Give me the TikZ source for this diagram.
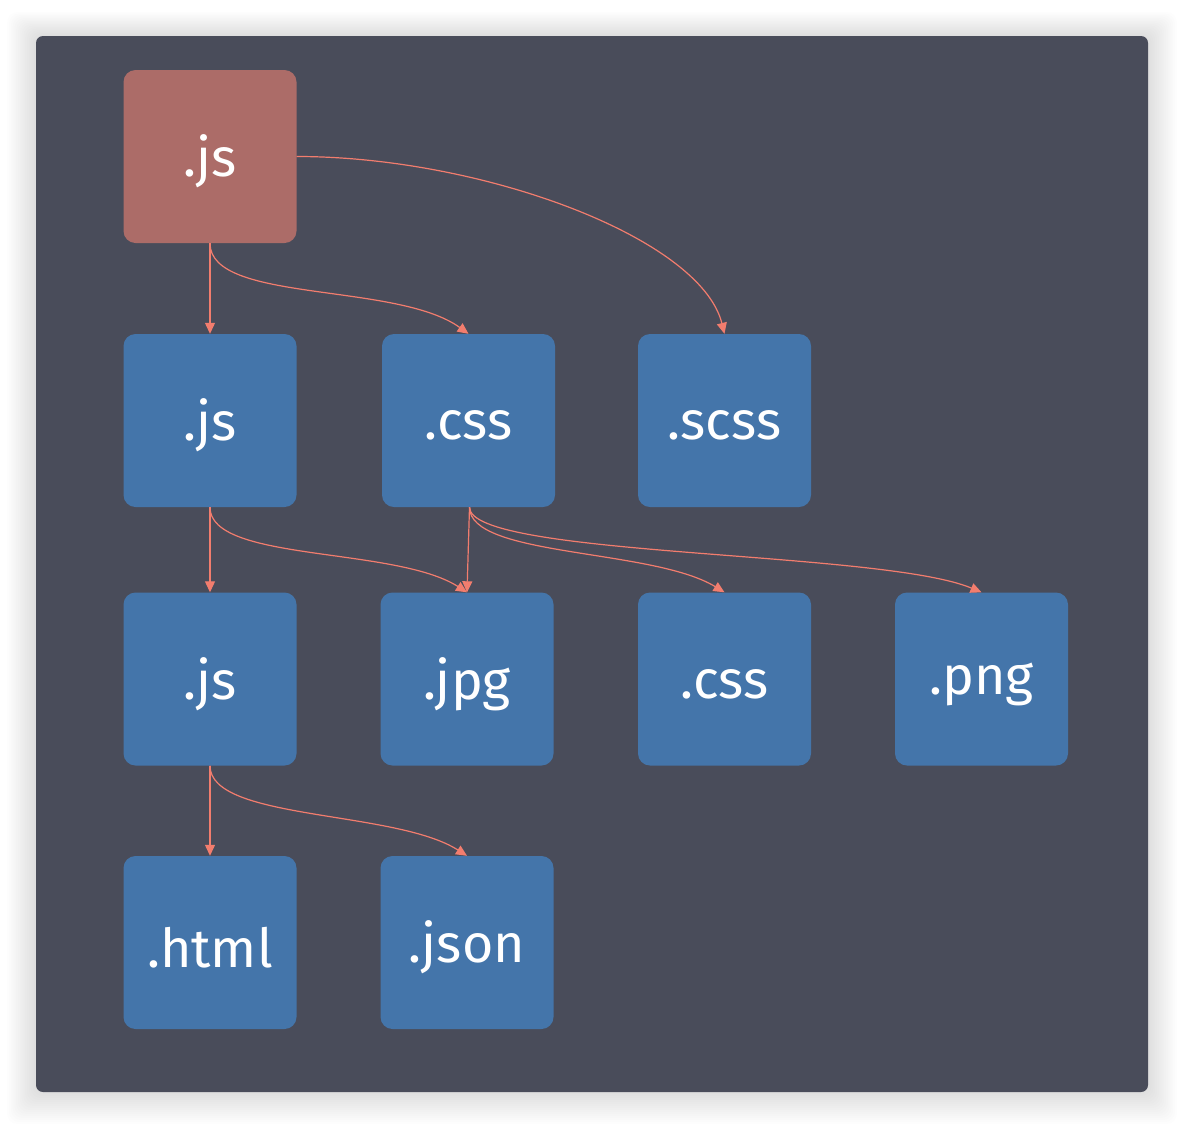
\documentclass[tikz,border=0pt]{standalone}
\usepackage{fontspec}
\setmainfont{Fira Sans}
\usetikzlibrary{arrows.meta}
\definecolor{panelbg}{HTML}{494C5A}
\definecolor{rootred}{HTML}{AC6C68}
\definecolor{fileblue}{HTML}{4475AA}
\definecolor{edgecol}{HTML}{F27D6E}
\newcommand{\lowtxt}[1]{\raisebox{-5bp}[\height][\depth]{#1}}
\tikzset{
  filebox/.style={fill=fileblue, draw=none, rounded corners=12bp, minimum width=173bp, minimum height=173bp, inner sep=0pt, text=white, font=\fontsize{54}{62}\selectfont},
  rootbox/.style={filebox, fill=rootred},
  dep/.style={draw=edgecol, line width=1.2bp, -{Triangle[length=11bp,width=10bp]}}
}
\begin{document}
\begin{tikzpicture}[x=1bp,y=-1bp]
\useasboundingbox (0,0) rectangle (1184,1128);
\fill[white] (0,0) rectangle (1184,1128);
% soft shadow
\foreach \i in {1,...,16}{
  \fill[black, opacity=0.006, rounded corners=10bp] (36-1.8*\i,36-1.5*\i) rectangle (1148+1.8*\i,1092+2*\i);
}
\fill[panelbg, rounded corners=7bp] (36,36) rectangle (1148,1092);
% nodes
\node[rootbox] (js0) at (210,156.5) {\lowtxt{.js}};
\node[filebox] (js1) at (210,420.5) {\lowtxt{.js}};
\node[filebox] (css1) at (468.5,420.5) {\lowtxt{.css}};
\node[filebox] (scss) at (724.5,420.5) {\lowtxt{.scss}};
\node[filebox] (js2) at (210,679) {\lowtxt{.js}};
\node[filebox] (jpg) at (467,679) {\lowtxt{.jpg}};
\node[filebox] (css2) at (724.5,679) {\lowtxt{.css}};
\node[filebox] (png) at (981.5,679) {\lowtxt{.png}};
\node[filebox] (html) at (210,942.5) {\lowtxt{.html}};
\node[filebox] (json) at (467,942.5) {\lowtxt{.json}};
% edges
\draw[dep] (js0.south) -- (js1.north);
\draw[dep] (js0.south) .. controls +(0,60) and +(-72,-52) .. (css1.north);
\draw[dep] (js0.east) .. controls +(185,0) and +(-24,-96) .. (scss.north);
\draw[dep] (js1.south) -- (js2.north);
\draw[dep] (js1.south) .. controls +(0,55) and +(-72,-46) .. (jpg.north);
\draw[dep] ([xshift=1bp]css1.south) -- (jpg.north);
\draw[dep] ([xshift=1bp]css1.south) .. controls +(0,50) and +(-72,-44) .. (css2.north);
\draw[dep] ([xshift=1bp]css1.south) .. controls +(0,50) and +(-100,-42) .. (png.north);
\draw[dep] (js2.south) -- (html.north);
\draw[dep] (js2.south) .. controls +(0,55) and +(-72,-46) .. (json.north);
\end{tikzpicture}
\end{document}
